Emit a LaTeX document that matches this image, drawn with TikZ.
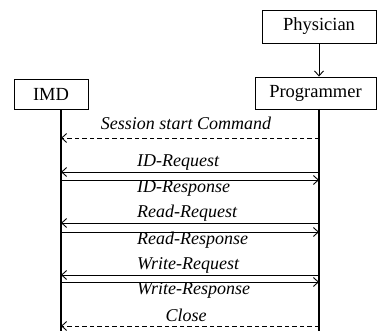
\documentclass[tikz,border=0pt]{standalone}
\usepackage{fontspec}
\setmainfont{Liberation Serif}
\usetikzlibrary{arrows.meta}
\begin{document}
\begin{tikzpicture}[x=1pt,y=-1pt,
  box/.style={draw,line width=0.9pt,rectangle,inner sep=0pt,font=\rmfamily\fontsize{18.5}{20}\selectfont},
  life/.style={line width=1.1pt},
  msg/.style={line width=0.9pt,arrows={-Straight Barb[length=5pt,width=9pt]}},
  dmsg/.style={msg,dash pattern=on 4.5pt off 3pt},
  lbl/.style={font=\rmfamily\fontsize{18}{20}\selectfont\itshape,inner sep=0pt}]
\useasboundingbox (0,0) rectangle (377,331);
\node[box,minimum width=114pt,minimum height=33pt] (phys) at (319,26.5) {Physician};
\node[box,minimum width=121pt,minimum height=32pt] (prog) at (315.5,93) {Programmer};
\node[box,minimum width=74pt,minimum height=30pt] (imd) at (51,94) {IMD};
\draw[msg] (phys.south) -- (phys.south |- prog.north);
\coordinate (Ltop) at (61,110);
\coordinate (Rtop) at (319,109);
\coordinate (Lbot) at (61,331);
\coordinate (Rbot) at (319,331);
\draw[life] (Ltop) -- (Lbot);
\draw[life] (Rtop) -- (Rbot);
% messages
\draw[dmsg] (Rtop |- 0,138) -- (Ltop |- 0,138);
\draw[msg] (Rtop |- 0,172) -- (Ltop |- 0,172);
\draw[msg] (Ltop |- 0,180) -- (Rtop |- 0,180);
\draw[msg] (Rtop |- 0,223) -- (Ltop |- 0,223);
\draw[msg] (Ltop |- 0,232) -- (Rtop |- 0,232);
\draw[msg] (Rtop |- 0,275) -- (Ltop |- 0,275);
\draw[msg] (Ltop |- 0,282) -- (Rtop |- 0,282);
\draw[dmsg] (Rtop |- 0,326) -- (Ltop |- 0,326);
% labels
\node[lbl,anchor=base] (t1) at (186,130) {Session start Command};
\node[lbl,anchor=base west] (t2) at (137,167) {ID-Request};
\node[lbl,anchor=base west] (t3) at (137,193) {ID-Response};
\node[lbl,anchor=base west] (t4) at (137,217) {Read-Request};
\node[lbl,anchor=base west] (t5) at (137,244) {Read-Response};
\node[lbl,anchor=base west] (t6) at (137,269) {Write-Request};
\node[lbl,anchor=base west] (t7) at (137,294) {Write-Response};
\node[lbl,anchor=base] (t8) at (186,321) {Close};
\end{tikzpicture}
\end{document}
